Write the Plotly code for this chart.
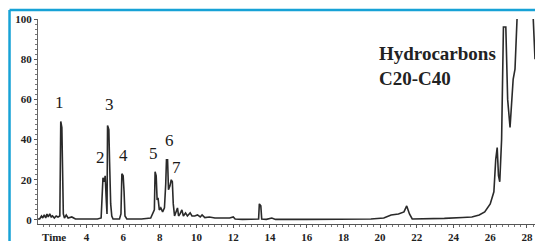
import plotly.graph_objects as go

# Chromatogram trace (time in min, relative abundance %)
time_min = [1.36, 1.45, 1.55, 1.62, 1.70, 1.78, 1.85, 1.92, 2.00, 2.08, 2.15, 2.25, 2.35, 2.45, 2.55,
            2.60, 2.66, 2.70, 2.74, 2.80, 2.90, 3.00, 3.20, 3.40, 3.80, 4.20, 4.60, 4.80,
            4.85, 4.90, 4.97, 5.02, 5.08, 5.12, 5.15, 5.22, 5.26, 5.32, 5.38, 5.45,
            5.80, 5.88, 5.93, 6.00, 6.05, 6.10, 6.20, 7.00, 7.50, 7.60, 7.70,
            7.74, 7.80, 7.85, 7.90, 7.97, 8.05, 8.15, 8.25, 8.32, 8.36, 8.42, 8.47,
            8.55, 8.62, 8.68, 8.73, 8.80, 8.90, 8.96, 9.02, 9.10, 9.20, 9.28, 9.40,
            9.50, 9.65, 9.75, 9.90, 10.05, 10.20, 10.30, 10.45, 10.70, 11.00, 11.40,
            11.80, 12.00, 12.10, 12.50, 13.00, 13.38, 13.42, 13.50, 13.55, 13.80,
            14.10, 14.30, 16.00, 18.00, 19.50, 20.20, 20.60, 21.00, 21.30, 21.45,
            21.60, 21.75, 22.50, 23.50, 24.50, 25.00, 25.40, 25.70, 26.00, 26.20,
            26.30, 26.38, 26.45, 26.52, 26.62, 26.72, 26.85, 26.95, 27.08, 27.25,
            27.35, 27.55, 28.25, 28.44]
abundance = [0.5, 0.5, 2.0, 1.0, 2.5, 1.0, 3.0, 1.5, 3.0, 1.5, 2.0, 1.0, 2.0, 1.5, 2.0,
             49.0, 46.0, 20.0, 3.0, 1.0, 2.5, 1.0, 1.5, 0.5, 0.5, 0.3, 0.5, 1.0,
             12.0, 21.0, 19.0, 22.0, 10.0, 3.0, 47.0, 45.0, 29.0, 8.0, 2.0, 0.5,
             0.5, 3.0, 23.0, 22.0, 14.0, 2.0, 0.5, 0.5, 1.0, 3.0, 5.0,
             24.0, 22.0, 10.0, 11.0, 5.0, 6.0, 4.0, 6.0, 18.0, 30.0, 30.0, 15.0,
             17.0, 20.0, 19.0, 8.0, 2.0, 4.0, 6.0, 2.0, 3.0, 5.0, 2.0, 3.5,
             2.0, 3.5, 2.0, 2.0, 2.5, 1.5, 2.5, 1.2, 1.5, 1.0, 1.0,
             1.0, 1.5, 0.5, 0.3, 0.3, 0.5, 8.0, 7.0, 0.5, 0.3,
             1.0, 0.3, 0.3, 0.5, 0.5, 1.0, 2.5, 3.0, 4.0, 7.0,
             3.0, 0.5, 0.5, 0.8, 1.2, 1.5, 2.5, 4.0, 8.0, 14.0,
             30.0, 36.0, 22.0, 19.0, 40.0, 96.0, 96.0, 60.0, 46.0, 70.0,
             75.0, 120.0, 120.0, 80.0]

# Peak labels (number, time, height of label)
peak_names = ["1", "2", "3", "4", "5", "6", "7"]
peak_time = [2.53, 4.76, 5.25, 6.00, 7.67, 8.50, 8.88]
peak_label_y = [58.5, 31.0, 57.5, 32.0, 33.0, 39.5, 26.0]

x_tick_vals = [4, 6, 8, 10, 12, 14, 16, 18, 20, 22, 24, 26, 28]
y_tick_vals = [0, 20, 40, 60, 80, 100]

serif = "Liberation Serif"

fig = go.Figure()
fig.add_trace(go.Scatter(
    x=time_min, y=abundance, mode="lines",
    line=dict(color="#2a2a2a", width=1.6),
    hoverinfo="skip", showlegend=False, cliponaxis=True,
))

for name, tx, ty in zip(peak_names, peak_time, peak_label_y):
    fig.add_annotation(x=tx, y=ty, text=name, showarrow=False,
                       font=dict(family=serif, size=17, color="#1a1a1a"),
                       xanchor="center", yanchor="middle")

fig.add_annotation(x=0.682, y=0.771, xref="paper", yref="paper",
                   text="<b>Hydrocarbons</b><br><b>C20-C40</b>", showarrow=False,
                   align="left", xanchor="left", yanchor="middle",
                   font=dict(family=serif, size=19, color="#222222"))

fig.add_annotation(x=0.004, y=-0.063, xref="paper", yref="paper",
                   text="<b>Time</b>", showarrow=False, xanchor="left", yanchor="middle",
                   font=dict(family=serif, size=11, color="#222222"))

# blue frame (left and top)
fig.add_shape(type="line", xref="paper", yref="paper", x0=-0.0573, x1=-0.0573,
              y0=-0.2, y1=1.044, line=dict(color="#17a2d6", width=2.5))
fig.add_shape(type="line", xref="paper", yref="paper", x0=-0.0573, x1=1.2,
              y0=1.044, y1=1.044, line=dict(color="#17a2d6", width=2.5))

fig.update_xaxes(range=[1.36, 28.44], tickvals=x_tick_vals, showgrid=False, zeroline=False,
                 showline=True, linecolor="#555555", linewidth=1, automargin=False,
                 ticks="outside", ticklen=3, tickcolor="#555555",
                 minor=dict(dtick=1/3, ticks="outside", ticklen=2, tickcolor="#777777"),
                 tickfont=dict(family=serif, size=11, color="#222222", weight="bold"))
fig.update_yaxes(range=[-2, 100], tickvals=y_tick_vals, showgrid=False, zeroline=False,
                 showline=True, linecolor="#666666", linewidth=1, automargin=False,
                 ticks="outside", ticklen=3, tickcolor="#555555",
                 minor=dict(dtick=2.5, ticks="outside", ticklen=2, tickcolor="#777777"),
                 tickfont=dict(family=serif, size=11, color="#222222", weight="bold"))

fig.update_layout(template="none", width=535, height=241,
                  margin=dict(l=38, r=0, t=19, b=17, autoexpand=False),
                  paper_bgcolor="white", plot_bgcolor="white")

fig.write_html("out.html", config={"displayModeBar": False},
               post_script="document.body.style.margin='0';document.body.style.overflow='hidden';")
